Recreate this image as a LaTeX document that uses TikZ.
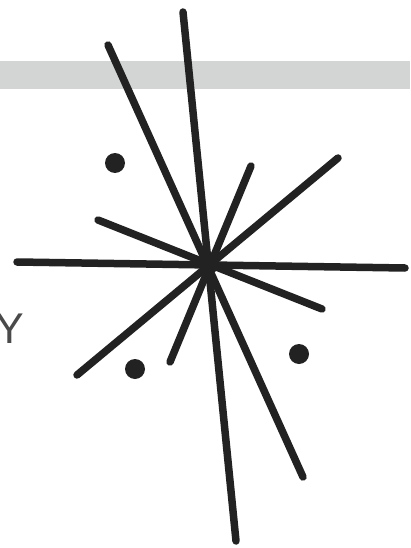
\documentclass[tikz,border=0pt]{standalone}
\usepackage{fontspec}
\setsansfont{Liberation Sans}
\definecolor{band}{HTML}{D3D5D5}
\definecolor{ink}{HTML}{222222}
\definecolor{lbl}{HTML}{4A4A4A}
\begin{document}
\begin{tikzpicture}[x=1pt,y=-1pt,
  ray/.style={draw=ink,line width=7.5pt,line cap=round},
  blob/.style={fill=ink},
  lab/.style={font=\sffamily\fontsize{43}{43}\selectfont,text=lbl,inner sep=0pt}]
\useasboundingbox (0,0) rectangle (410,548);
\fill[band] (0,61) rectangle (410,89);
% end points
\coordinate (a1) at (183,12);  \coordinate (a2) at (236,541);
\coordinate (b1) at (108,45);  \coordinate (b2) at (303,477);
\coordinate (c1) at (17,262);  \coordinate (c2) at (405,268);
\coordinate (d1) at (338,158); \coordinate (d2) at (77,375);
\coordinate (e1) at (251,166); \coordinate (e2) at (170,362);
\coordinate (f1) at (98,220);  \coordinate (f2) at (322,309);
\draw[ray] (a1) -- (a2);
\draw[ray] (b1) -- (b2);
\draw[ray] (c1) -- (c2);
\draw[ray] (d1) -- (d2);
\draw[ray] (e1) -- (e2);
\draw[ray] (f1) -- (f2);
\fill[blob] (209,264) circle (10);
\fill[blob] (115,163) circle (10);
\fill[blob] (135,369) circle (10);
\fill[blob] (299,354) circle (10);
\node[lab] (y) at (10,329) {Y};
\end{tikzpicture}
\end{document}
